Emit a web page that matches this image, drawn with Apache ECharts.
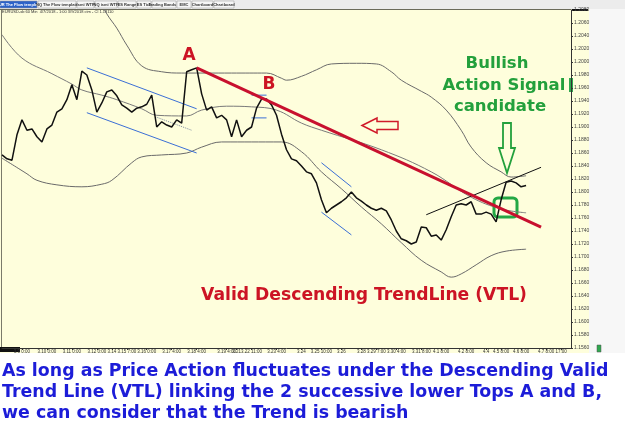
<!DOCTYPE html>
<html>
<head>
<meta charset="utf-8">
<script src="https://cdn.jsdelivr.net/npm/echarts@6/dist/echarts.min.js"></script>
<style>
html,body{margin:0;padding:0;background:#fff;}
#main{width:625px;height:444px;}
</style>
</head>
<body>
<div id="main"></div>
<script>
// x slots: one slot is about 5 hourly bars of the 60 min chart
var slotCount=115;
var tickIdx=[4,9,14,19,22,25,29,34,39,45,47,50,55,60,64,68,72,75,79,84,88,93,97,100,104,109,112];
var tickLabels=["3.9 0:00","3.10 0:00","3.11 0:00","3.12 0:00","3.14","3.15 7:00","3.16 0:00","3.17 4:00","3.18 4:00",
    "3.19 4:00","3.21","3.22 11:00","3.23 4:00","3.24","3.25 10:00","3.26","3.28","3.29 7:00","3.30 4:00","3.31 8:00",
    "4.1 8:00","4.2 8:00","4.4","4.5 8:00","4.6 8:00","4.7 8:00","17:00"];

// price, one value per slot
var price=[1.1857,1.1851,1.1849,1.1888,1.1911,1.1895,1.1897,1.1885,1.1877,1.1897,
    1.1903,1.1923,1.1928,1.1942,1.1965,1.1942,1.1986,1.1980,1.1957,1.1923,
    1.1937,1.1954,1.1957,1.1948,1.1934,1.1929,1.1923,1.1929,1.1931,1.1935,
    1.1949,1.1900,1.1908,1.1903,1.1900,1.1911,1.1906,1.1985,1.1988,1.1991,
    1.1951,1.1926,1.1931,1.1914,1.1918,1.1911,1.1885,1.1911,1.1885,1.1895,
    1.1900,1.1929,1.1943,1.1943,1.1934,1.1918,1.1889,1.1865,1.1851,1.1848,
    1.1840,1.1831,1.1828,1.1814,1.1788,1.1768,1.1775,1.1780,1.1785,1.1791,
    1.1800,1.1791,1.1786,1.1780,1.1775,1.1772,1.1775,1.1771,1.1757,1.1740,
    1.1728,1.1725,1.1720,1.1723,1.1746,1.1745,1.1732,1.1734,1.1726,1.1742,
    1.1762,1.1780,1.1782,1.1780,1.1785,1.1766,1.1766,1.1769,1.1766,1.1754,
    1.1788,1.1815,1.1817,1.1814,1.1808,1.1810];
var lastPrice=1.1810;

// bollinger bands [slot, price]
var bbUpper=[[19,1.2103],[21,1.2074],[23,1.2052],[25,1.2026],[28,1.1994],[32,1.1985],[36,1.1983],[46,1.1983],
    [53,1.1983],[56,1.1975],[57,1.1972],[60,1.1978],[63,1.1988],[66,1.1997],[71,1.1998],[75,1.1997],[78,1.1985],
    [80,1.1972],[84,1.1955],[86,1.1946],[89,1.1926],[92,1.1895],[94,1.1869],[97,1.1845],[100,1.1831],[102,1.1823],[105,1.1825]];
var bbMiddle=[[0,1.2042],[4,1.2006],[10,1.1982],[14,1.1966],[16,1.1957],[20,1.1949],[23,1.1942],[28,1.1928],
    [31,1.1918],[37,1.1917],[40,1.1926],[45,1.1932],[50,1.1931],[55,1.1926],[60,1.1906],[64,1.1895],[76,1.1865],
    [86,1.1831],[94,1.1792],[100,1.1774],[105,1.1768]];
var bbLower=[[0,1.1852],[5,1.1828],[7,1.1818],[11,1.1811],[16,1.1808],[20,1.1812],[22,1.1818],[26,1.1845],
    [28,1.1854],[32,1.1857],[37,1.1860],[40,1.1869],[44,1.1877],[56,1.1877],[60,1.1862],[64,1.1831],[68,1.1805],
    [72,1.1777],[76,1.1751],[80,1.1722],[84,1.1695],[88,1.1677],[90,1.1669],[92,1.1674],[95,1.1688],[98,1.1702],
    [101,1.1709],[105,1.1712]];

// drawn lines
var vtlRed=[[39,1.1991],[108,1.1746]];
var riseLine=[[85,1.1765],[108,1.1838]];
var channelTop=[[17,1.1991],[39,1.1928]];
var channelBottom=[[17,1.1922],[39,1.1860]];
var channelMid=[[31,1.1915],[38,1.1895]];
var markB1=[[50,1.1949],[53,1.1949]];
var markB2=[[50,1.1914],[53,1.1914]];
var slideTop=[[64,1.1845],[70,1.1808]];
var slideBottom=[[64,1.1769],[70,1.1734]];

var tabNames=["EUR The Flow template","NQ The Flow template","Ismi WTF","NQ ismi WTF","ES Range","ES Tick","Trading Bands 1","EMC","Chartboard","Chartboard"];
var tabEdges=[0,38,77,95,118,137,152,177,192,214,235];

var noteLines=["As long as Price Action fluctuates under the Descending Valid",
    "Trend Line (VTL) linking the 2 successive lower Tops A and B,",
    "we can consider that the Trend is bearish"];

function buildCategories(){
    var cats=[];
    for(var i=0;i<slotCount;i++){cats.push("");}
    for(var j=0;j<tickIdx.length;j++){cats[tickIdx[j]]=tickLabels[j];}
    return cats;
}

function plainLine(name,data,color,width,type,smooth){
    return {
        name:name,type:"line",data:data,symbol:"none",smooth:smooth||false,silent:true,
        lineStyle:{color:color,width:width,type:type||"solid"},z:3
    };
}

function buildGraphic(){
    var g=[];
    // backgrounds
    g.push({type:"rect",z:-1,shape:{x:0,y:0,width:625,height:10},style:{fill:"#ececec"}});
    g.push({type:"rect",z:-1,shape:{x:0,y:9,width:589,height:344},style:{fill:"#fefedc"}});
    g.push({type:"rect",z:-1,shape:{x:589,y:9,width:36,height:344},style:{fill:"#f7f7f7"}});
    g.push({type:"rect",z:-1,shape:{x:0,y:9,width:571,height:1},style:{fill:"#6b6b5a"}});
    g.push({type:"rect",z:-1,shape:{x:1,y:10,width:1,height:338},style:{fill:"#7a7a6a"}});
    // tabs
    for(var i=0;i<tabNames.length;i++){
        var x0=tabEdges[i],w=tabEdges[i+1]-tabEdges[i]-1;
        g.push({type:"rect",shape:{x:x0,y:1,width:w,height:7},
            style:{fill:i==0?"#2c62c8":"#f6f6f6",stroke:"#9a9a9a",lineWidth:0.5}});
        g.push({type:"text",style:{text:tabNames[i],x:x0+w/2,y:4.8,textAlign:"center",textVerticalAlign:"middle",
            font:"bold 4px Liberation Sans",fill:i==0?"#fff":"#333"}});
    }
    g.push({type:"text",style:{text:"EURUSD-sb 60 Min  4/7/2018 - 1:00 3/9/2018 ctm - Cl 1.18110",x:2,y:12,
        textVerticalAlign:"middle",font:"4px Liberation Sans",fill:"#333"}});
    // small markers
    g.push({type:"rect",shape:{x:0,y:347,width:20,height:5},style:{fill:"#111"}});
    g.push({type:"rect",shape:{x:597,y:345,width:4,height:7},style:{fill:"#2fa84f",stroke:"#555",lineWidth:0.5}});
    g.push({type:"rect",shape:{x:569,y:78,width:4,height:14},style:{fill:"#2fa84f"}});
    g.push({type:"rect",shape:{x:572,y:9,width:16,height:2},style:{fill:"#111"}});
    // tops
    g.push({type:"text",style:{text:"A",x:189,y:56,textAlign:"center",textVerticalAlign:"middle",
        font:"bold 17px DejaVu Sans",fill:"#cc1424"}});
    g.push({type:"text",style:{text:"B",x:269,y:85,textAlign:"center",textVerticalAlign:"middle",
        font:"bold 17px DejaVu Sans",fill:"#cc1424"}});
    // left arrow
    g.push({type:"polygon",shape:{points:[[362,125.5],[377,118],[377,121.5],[398,121.5],[398,129.5],[377,129.5],[377,133]]},
        style:{fill:"none",stroke:"#d01a2a",lineWidth:1.5}});
    // bullish signal
    var bull=["Bullish","Action Signal","candidate"],bullY=[64,86,107],bullX=[497,504,500];
    for(var k=0;k<bull.length;k++){
        g.push({type:"text",style:{text:bull[k],x:bullX[k],y:bullY[k],textAlign:"center",textVerticalAlign:"middle",
            font:"bold 16.5px DejaVu Sans",fill:"#23a03c"}});
    }
    g.push({type:"polygon",shape:{points:[[503,123],[511,123],[511,148],[515,148],[507,173],[499,148],[503,148]]},
        style:{fill:"none",stroke:"#23a03c",lineWidth:1.8}});
    g.push({type:"rect",shape:{x:494,y:198,width:23,height:19,r:4},style:{fill:"none",stroke:"#23a845",lineWidth:3}});
    g.push({type:"text",style:{text:"Valid Descending TrendLine (VTL)",x:364,y:296,textAlign:"center",textVerticalAlign:"middle",
        font:"bold 17.2px DejaVu Sans",fill:"#cc1424"}});
    // note below
    for(var n=0;n<noteLines.length;n++){
        g.push({type:"text",style:{text:noteLines[n],x:2,y:371+n*21,textVerticalAlign:"middle",
            font:"bold 17.4px DejaVu Sans",fill:"#1c1cd8"}});
    }
    return g;
}

function showChart(){
    var myChart=echarts.init(document.getElementById("main"),null,{renderer:"canvas"});
    var priceSeries=plainLine("price",price,"#111",1.5);
    priceSeries.z=5;
    priceSeries.markLine={
        silent:true,symbol:"none",
        lineStyle:{opacity:0},
        label:{position:"end",distance:1,formatter:lastPrice.toFixed(4),fontSize:5,color:"#fff",
            backgroundColor:"#000",padding:[1,2],fontFamily:"Liberation Sans"},
        data:[{yAxis:lastPrice}]
    };
    var option={
        backgroundColor:"#ffffff",
        animation:false,
        grid:{left:2,right:54,top:10,bottom:96},
        xAxis:{
            type:"category",boundaryGap:false,data:buildCategories(),
            axisLine:{lineStyle:{color:"#333",width:1}},
            axisTick:{length:2,interval:function(i,v){return v!=="";},lineStyle:{color:"#333"}},
            axisLabel:{interval:function(i,v){return v!=="";},fontSize:4.5,color:"#333",margin:1,fontFamily:"Liberation Sans"},
            splitLine:{show:false}
        },
        yAxis:{
            type:"value",position:"right",min:1.156,max:1.208,interval:0.002,scale:true,
            axisLine:{show:true,lineStyle:{color:"#333",width:1}},
            axisTick:{show:true,length:2,lineStyle:{color:"#333"}},
            axisLabel:{fontSize:5,color:"#444",margin:3,fontFamily:"Liberation Sans",
                formatter:function(v){return v.toFixed(4);}},
            splitLine:{show:false}
        },
        series:[
            plainLine("upper",bbUpper,"#6a6a6a",1,"solid",0.4),
            plainLine("middle",bbMiddle,"#7a7a7a",1,"solid",0.4),
            plainLine("lower",bbLower,"#6a6a6a",1,"solid",0.4),
            plainLine("channelTop",channelTop,"#3b6fd6",1),
            plainLine("channelBottom",channelBottom,"#3b6fd6",1),
            plainLine("channelMid",channelMid,"#7a8aa0",1,"dotted"),
            plainLine("markB1",markB1,"#3b6fd6",1),
            plainLine("markB2",markB2,"#3b6fd6",1),
            plainLine("slideTop",slideTop,"#3b6fd6",1),
            plainLine("slideBottom",slideBottom,"#3b6fd6",1),
            plainLine("rise",riseLine,"#111",1),
            priceSeries,
            (function(){var s=plainLine("vtl",vtlRed,"#c8102e",3);s.z=6;return s;})()
        ],
        graphic:buildGraphic()
    };
    myChart.setOption(option);
}

showChart();
</script>
</body>
</html>
